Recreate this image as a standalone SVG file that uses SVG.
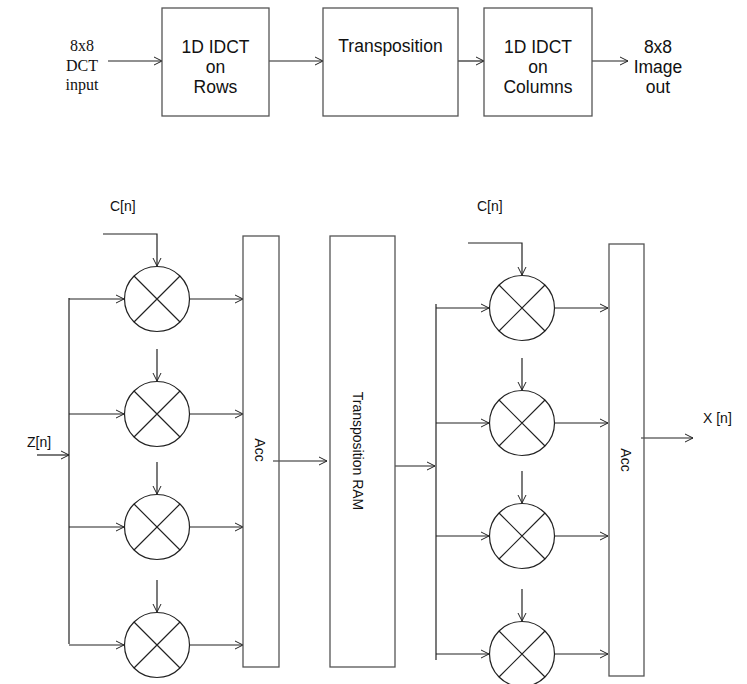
<svg xmlns="http://www.w3.org/2000/svg" width="747" height="684" viewBox="0 0 747 684">
<defs>
<marker id="ah" markerWidth="12" markerHeight="12" refX="9" refY="5" orient="auto" markerUnits="userSpaceOnUse">
<path d="M1,1 L9,5 L1,9" fill="none" stroke="#222" stroke-width="1"/>
</marker>
<style>
.box{fill:#fff;stroke:#555;stroke-width:1.3}
.ln{fill:none;stroke:#222;stroke-width:1.2}
.ar{fill:none;stroke:#222;stroke-width:1.2;marker-end:url(#ah)}
.mul{fill:#fff;stroke:#222;stroke-width:1.2}
.t{font-family:"Liberation Sans",Arial,sans-serif;font-size:17.5px;fill:#111;text-anchor:middle}
.tt{font-family:"Liberation Serif","Times New Roman",serif;font-size:16px;fill:#111;text-anchor:middle}
.s{font-family:"Liberation Sans",Arial,sans-serif;font-size:14px;fill:#111}
</style>
</defs>
<rect width="747" height="684" fill="#fff"/>

<g id="connectors">
<!-- top flow -->
<line class="ar" x1="108" y1="61" x2="162" y2="61"/>
<line class="ar" x1="269" y1="61" x2="323" y2="61"/>
<line class="ar" x1="458" y1="61" x2="484" y2="61"/>
<line class="ar" x1="592" y1="61" x2="628" y2="61"/>

<!-- column 1 -->
<path class="ar" d="M103,234 L157,234 L157,266"/>
<line class="ar" x1="157" y1="349" x2="157" y2="381"/>
<line class="ar" x1="157" y1="462" x2="157" y2="494"/>
<line class="ar" x1="157" y1="580" x2="157" y2="612"/>
<line class="ln" x1="69" y1="298" x2="69" y2="644"/>
<line class="ar" x1="37" y1="455" x2="69" y2="455"/>
<line class="ar" x1="69" y1="299" x2="124" y2="299"/>
<line class="ar" x1="69" y1="414" x2="124" y2="414"/>
<line class="ar" x1="69" y1="527" x2="124" y2="527"/>
<line class="ar" x1="69" y1="645" x2="124" y2="645"/>
<line class="ar" x1="190" y1="299" x2="243" y2="299"/>
<line class="ar" x1="190" y1="414" x2="243" y2="414"/>
<line class="ar" x1="190" y1="527" x2="243" y2="527"/>
<line class="ar" x1="190" y1="645" x2="243" y2="645"/>
<line class="ar" x1="273" y1="461" x2="327" y2="461"/>

<!-- column 2 -->
<line class="ar" x1="393" y1="466" x2="435" y2="466"/>
<line class="ln" x1="436" y1="304" x2="436" y2="660"/>
<path class="ar" d="M468,243 L522,243 L522,275"/>
<line class="ar" x1="522" y1="358" x2="522" y2="390"/>
<line class="ar" x1="522" y1="471" x2="522" y2="503"/>
<line class="ar" x1="522" y1="589" x2="522" y2="621"/>
<line class="ar" x1="436" y1="308" x2="489" y2="308"/>
<line class="ar" x1="436" y1="423" x2="489" y2="423"/>
<line class="ar" x1="436" y1="536" x2="489" y2="536"/>
<line class="ar" x1="436" y1="654" x2="489" y2="654"/>
<line class="ar" x1="555" y1="308" x2="608" y2="308"/>
<line class="ar" x1="555" y1="423" x2="608" y2="423"/>
<line class="ar" x1="555" y1="536" x2="608" y2="536"/>
<line class="ar" x1="555" y1="654" x2="608" y2="654"/>
<line class="ar" x1="641" y1="438" x2="693" y2="438"/>
</g>

<!-- top row -->
<g id="input-label">
<text class="tt" x="82" y="51">8x8</text>
<text class="tt" x="82" y="71">DCT</text>
<text class="tt" x="82" y="90">input</text>
</g>
<g id="idct-rows">
<rect class="box" x="162" y="8" width="107" height="108"/>
<text class="t" x="215.5" y="53">1D IDCT</text>
<text class="t" x="215.5" y="73">on</text>
<text class="t" x="215.5" y="93">Rows</text>
</g>
<g id="transposition">
<rect class="box" x="323" y="8" width="135" height="108"/>
<text class="t" x="390.5" y="52">Transposition</text>
</g>
<g id="idct-cols">
<rect class="box" x="484" y="8" width="108" height="108"/>
<text class="t" x="538" y="53">1D IDCT</text>
<text class="t" x="538" y="73">on</text>
<text class="t" x="538" y="93">Columns</text>
</g>
<g id="output-label">
<text class="t" x="658" y="53">8x8</text>
<text class="t" x="658" y="73">Image</text>
<text class="t" x="658" y="93">out</text>
</g>

<!-- bottom: labels -->
<g id="cn1"><text class="s" x="110" y="211">C[n]</text></g>
<g id="zn"><text class="s" x="27" y="447">Z[n]</text></g>
<g id="cn2"><text class="s" x="477" y="211">C[n]</text></g>
<g id="xn"><text class="s" x="703" y="423">X [n]</text></g>

<!-- column 1 multipliers -->
<g id="mul1-1"><circle class="mul" cx="157" cy="299" r="32.5"/><path class="ln" d="M134,276 L180,322 M180,276 L134,322"/></g>
<g id="mul1-2"><circle class="mul" cx="157" cy="414" r="32.5"/><path class="ln" d="M134,391 L180,437 M180,391 L134,437"/></g>
<g id="mul1-3"><circle class="mul" cx="157" cy="527" r="32.5"/><path class="ln" d="M134,504 L180,550 M180,504 L134,550"/></g>
<g id="mul1-4"><circle class="mul" cx="157" cy="645" r="32.5"/><path class="ln" d="M134,622 L180,668 M180,622 L134,668"/></g>

<g id="acc1">
<rect class="box" x="243" y="236" width="36" height="431" fill="none" style="fill:none"/>
<text class="s" transform="translate(255,450) rotate(90)" text-anchor="middle">Acc</text>
</g>

<g id="ram">
<rect class="box" x="330" y="236" width="65" height="431"/>
<text class="s" transform="translate(353,451) rotate(90)" text-anchor="middle">Transposition RAM</text>
</g>

<!-- column 2 multipliers -->
<g id="mul2-1"><circle class="mul" cx="522" cy="308" r="32.5"/><path class="ln" d="M499,285 L545,331 M545,285 L499,331"/></g>
<g id="mul2-2"><circle class="mul" cx="522" cy="423" r="32.5"/><path class="ln" d="M499,400 L545,446 M545,400 L499,446"/></g>
<g id="mul2-3"><circle class="mul" cx="522" cy="536" r="32.5"/><path class="ln" d="M499,513 L545,559 M545,513 L499,559"/></g>
<g id="mul2-4"><circle class="mul" cx="522" cy="654" r="32.5"/><path class="ln" d="M499,631 L545,677 M545,631 L499,677"/></g>

<g id="acc2">
<rect class="box" x="609" y="244" width="35" height="432" style="fill:none"/>
<text class="s" transform="translate(621,460) rotate(90)" text-anchor="middle">Acc</text>
</g>
</svg>
